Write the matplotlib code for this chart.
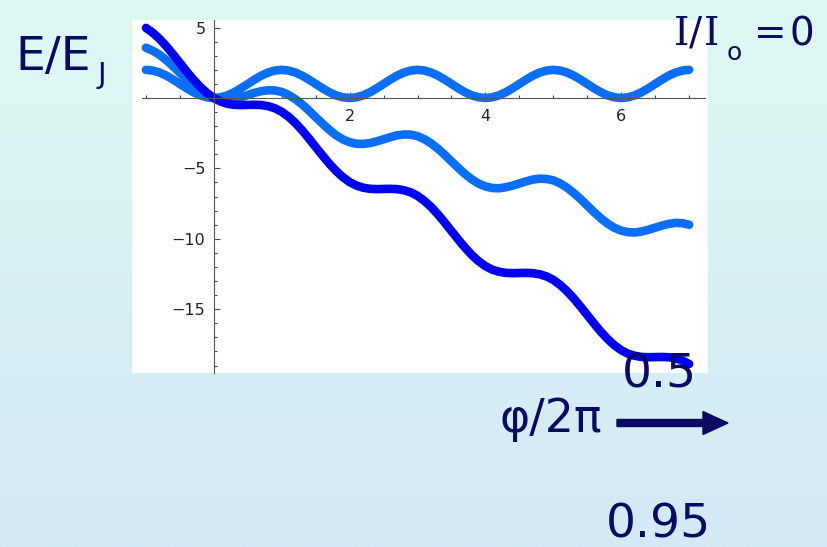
import numpy as np
import matplotlib
matplotlib.use("Agg")
import matplotlib.pyplot as plt
from matplotlib.patches import FancyArrow

# Washboard potential E/E_J versus phase for three bias currents I/I0
phase = [-1.0, -0.9, -0.8, -0.7, -0.6, -0.5, -0.4, -0.3, -0.2, -0.1,
         0.0, 0.1, 0.2, 0.3, 0.4, 0.5, 0.6, 0.7, 0.8, 0.9,
         1.0, 1.1, 1.2, 1.3, 1.4, 1.5, 1.6, 1.7, 1.8, 1.9,
         2.0, 2.1, 2.2, 2.3, 2.4, 2.5, 2.6, 2.7, 2.8, 2.9,
         3.0, 3.1, 3.2, 3.3, 3.4, 3.5, 3.6, 3.7, 3.8, 3.9,
         4.0, 4.1, 4.2, 4.3, 4.4, 4.5, 4.6, 4.7, 4.8, 4.9,
         5.0, 5.1, 5.2, 5.3, 5.4, 5.5, 5.6, 5.7, 5.8, 5.9,
         6.0, 6.1, 6.2, 6.3, 6.4, 6.5, 6.6, 6.7, 6.8, 6.9,
         7.0]

energy_i000 = [2.00, 1.95, 1.81, 1.59, 1.31, 1.00, 0.69, 0.41, 0.19, 0.05,
               0.00, 0.05, 0.19, 0.41, 0.69, 1.00, 1.31, 1.59, 1.81, 1.95,
               2.00, 1.95, 1.81, 1.59, 1.31, 1.00, 0.69, 0.41, 0.19, 0.05,
               0.00, 0.05, 0.19, 0.41, 0.69, 1.00, 1.31, 1.59, 1.81, 1.95,
               2.00, 1.95, 1.81, 1.59, 1.31, 1.00, 0.69, 0.41, 0.19, 0.05,
               0.00, 0.05, 0.19, 0.41, 0.69, 1.00, 1.31, 1.59, 1.81, 1.95,
               2.00, 1.95, 1.81, 1.59, 1.31, 1.00, 0.69, 0.41, 0.19, 0.05,
               0.00, 0.05, 0.19, 0.41, 0.69, 1.00, 1.31, 1.59, 1.81, 1.95,
               2.00]

energy_i050 = [3.57, 3.36, 3.07, 2.69, 2.25, 1.79, 1.32, 0.88, 0.51, 0.21,
               0.00, -0.11, -0.12, -0.06, 0.06, 0.21, 0.37, 0.49, 0.55, 0.54,
               0.43, 0.22, -0.08, -0.45, -0.89, -1.36, -1.82, -2.26, -2.64, -2.94,
               -3.14, -3.25, -3.26, -3.20, -3.08, -2.93, -2.78, -2.65, -2.59, -2.60,
               -2.71, -2.92, -3.22, -3.60, -4.03, -4.50, -4.96, -5.40, -5.78, -6.08,
               -6.28, -6.39, -6.41, -6.34, -6.22, -6.07, -5.92, -5.79, -5.73, -5.75,
               -5.85, -6.06, -6.36, -6.74, -7.17, -7.64, -8.11, -8.54, -8.92, -9.22,
               -9.42, -9.53, -9.55, -9.48, -9.36, -9.21, -9.06, -8.94, -8.87, -8.89,
               -9.00]

energy_i095 = [4.98, 4.64, 4.20, 3.68, 3.10, 2.49, 1.88, 1.31, 0.79, 0.35,
               0.00, -0.25, -0.41, -0.48, -0.50, -0.49, -0.48, -0.50, -0.58, -0.73,
               -0.98, -1.33, -1.77, -2.29, -2.87, -3.48, -4.08, -4.66, -5.18, -5.62,
               -5.97, -6.22, -6.37, -6.45, -6.47, -6.46, -6.45, -6.47, -6.55, -6.70,
               -6.95, -7.30, -7.74, -8.26, -8.84, -9.45, -10.05, -10.63, -11.15, -11.59,
               -11.94, -12.19, -12.34, -12.42, -12.44, -12.43, -12.42, -12.44, -12.52, -12.67,
               -12.92, -13.27, -13.71, -14.23, -14.81, -15.41, -16.02, -16.60, -17.12, -17.56,
               -17.91, -18.16, -18.31, -18.39, -18.41, -18.40, -18.39, -18.41, -18.49, -18.64,
               -18.89]

x_major = [2, 4, 6]
y_major = [5, -5, -10, -15]

W, H = 827, 547
NAVY = "#0a0a62"
LIGHT = "#0b6ef6"
DARK = "#0000ee"

fig = plt.figure(figsize=(W / 100, H / 100), dpi=100)

# soft mint-to-sky background
bg = fig.add_axes([0, 0, 1, 1], zorder=-10)
top = np.array([222, 249, 243]) / 255
bottom = np.array([211, 233, 246]) / 255
t = np.linspace(0, 1, 256)[:, None, None]
grad = top * (1 - t) + bottom * t
bg.imshow(grad, aspect="auto", extent=[0, 1, 0, 1])
bg.set_axis_off()

# plot panel
ax = fig.add_axes([132 / W, 174 / H, 576 / W, 353 / H])
ax.set_facecolor("white")
ax.set_xlim(-1.205, 7.278)
ax.set_ylim(-19.53, 5.54)

for side in ("top", "right"):
    ax.spines[side].set_visible(False)
for side in ("left", "bottom"):
    ax.spines[side].set_position(("data", 0))
    ax.spines[side].set_color("#555555")
    ax.spines[side].set_linewidth(0.8)
ax.spines["bottom"].set_bounds(-1.06, 7.23)

ax.set_xticks(x_major)
ax.set_xticks(np.arange(-1, 7.01, 0.5), minor=True)
ax.set_yticks(y_major)
ax.set_yticks(np.arange(-19, 5.01, 1), minor=True)
ax.tick_params(which="both", direction="in", color="#444444", width=0.8,
               labelsize=11.5, labelcolor="#222222")
ax.tick_params(which="major", length=4)
ax.tick_params(which="minor", length=2.5)
ax.tick_params(axis="x", pad=8)
ax.tick_params(axis="y", pad=6)

line_kw = dict(lw=6.2, solid_capstyle="round", solid_joinstyle="round")
ax.plot(phase, energy_i000, color=LIGHT, **line_kw)
ax.plot(phase, energy_i050, color=LIGHT, **line_kw)
ax.plot(phase, energy_i095, color=DARK, **line_kw)


def put(x, y, s, size, **kw):
    fig.text(x / W, 1 - y / H, s, fontsize=size, color=NAVY,
             ha="left", va="baseline", **kw)


# axis annotations
put(15, 70, "E/E", 34)
put(97, 83, "J", 21)

put(674, 45, "I", 28, family="DejaVu Serif")
put(689, 45, "/", 28)
put(704, 45, "I", 28, family="DejaVu Serif")
put(727, 60, "o", 18)
put(754, 45, "=", 28)
put(790, 45, "0", 28)

put(622, 387, "0.5", 34)
put(606, 537, "0.95", 34)
put(499, 432, "\u03c6/2\u03c0", 33)

arrow = FancyArrow(617 / 100, (H - 423) / 100, 111 / 100, 0,
                   width=0.07, head_width=0.23, head_length=0.25,
                   length_includes_head=True, color=NAVY,
                   transform=fig.dpi_scale_trans)
fig.add_artist(arrow)

fig.savefig("out.png", dpi=100)
